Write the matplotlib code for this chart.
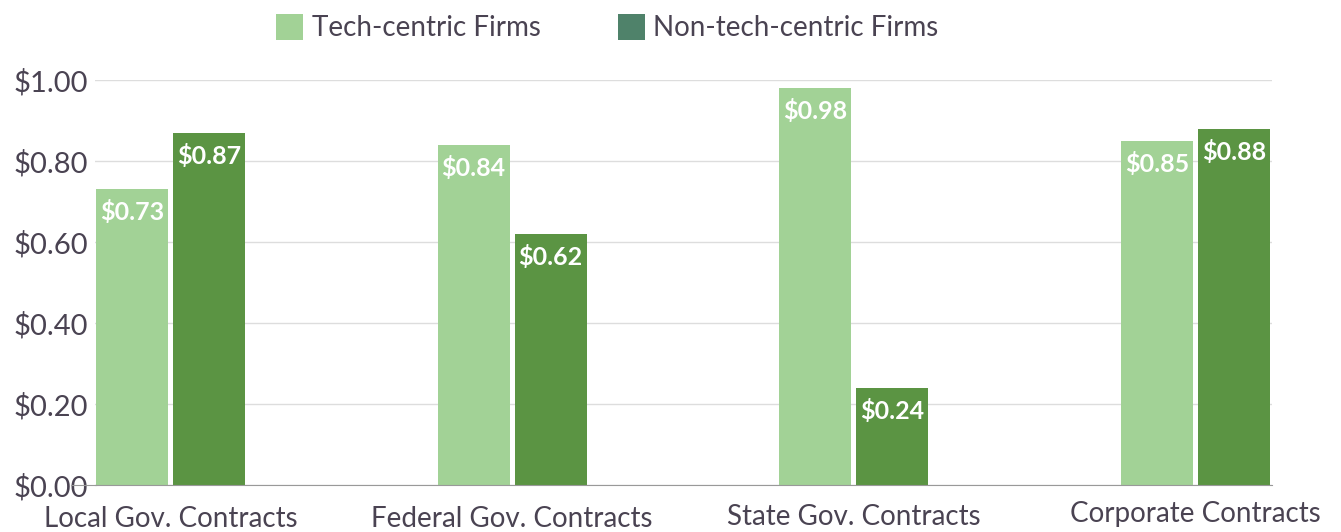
import numpy as np
import matplotlib.pyplot as plt
from matplotlib.patches import Patch
from matplotlib.lines import Line2D
from matplotlib.transforms import ScaledTranslation

categories = ['Local Gov. Contracts', 'Federal Gov. Contracts',
              'State Gov. Contracts', 'Corporate Contracts']
tech = [0.73, 0.84, 0.98, 0.85]
non_tech = [0.87, 0.62, 0.24, 0.88]
series_names = ['Tech-centric Firms', 'Non-tech-centric Firms']
yticks = [0.0, 0.2, 0.4, 0.6, 0.8, 1.0]

plt.rcParams['font.family'] = ['Lato', 'DejaVu Sans']
text_color = '#4a4352'
light = '#a2d296'
dark = '#5b9443'
legend_dark = '#4f826a'

W, H = 1341, 532
fig = plt.figure(figsize=(W/100, H/100), dpi=100)
ax = fig.add_axes([95/W, 1-485/H, 1177/W, 405/H])

x = np.arange(len(categories))
width = 0.211
off = 0.1127
b1 = ax.bar(x - off, tech, width, color=light, zorder=3)
b2 = ax.bar(x + off, non_tech, width, color=dark, zorder=3)

for bars in (b1, b2):
    for rect in bars:
        h = rect.get_height()
        ax.annotate(f'${h:.2f}', (rect.get_x() + rect.get_width()/2, h),
                    xytext=(0, -16.5), textcoords='offset points',
                    ha='center', va='center', color='white',
                    fontsize=18, fontweight='bold', zorder=5)

ax.set_xlim(-0.221, 3.224)
ax.set_ylim(0, 1.0)
ax.set_yticks(yticks)
ax.set_yticklabels([f'${v:.2f}' for v in yticks])
ax.set_xticks(x)
ax.set_xticklabels(categories)
ax.tick_params(axis='both', length=0, colors=text_color)
ax.tick_params(axis='y', pad=5, labelsize=21)
ax.tick_params(axis='x', pad=15, labelsize=20)

# slightly staggered category labels like the original
shifts = [0, 0, 2, 5]
for lbl, dy in zip(ax.get_xticklabels(), shifts):
    lbl.set_transform(lbl.get_transform() + ScaledTranslation(0, dy/100, fig.dpi_scale_trans))

ax.yaxis.grid(True, color='#dddddd', linewidth=1, zorder=0)
for s in ['top', 'right', 'left']:
    ax.spines[s].set_visible(False)
ax.spines['bottom'].set_color('#999999')
ax.spines['bottom'].set_zorder(4)
# baseline reaches a little further left than the grid
fig.add_artist(Line2D([71/W, 96/W], [1-485/H, 1-485/H], color='#999999', linewidth=0.8))

handles = [Patch(facecolor=light, label=series_names[0]),
           Patch(facecolor=legend_dark, label=series_names[1])]
leg = fig.legend(handles=handles, loc='upper center', bbox_to_anchor=(0.453, 1.021),
                 ncol=2, frameon=False, fontsize=20, handlelength=0.97,
                 handleheight=1.08, handletextpad=0.3, columnspacing=2.8)
for t in leg.get_texts():
    t.set_color(text_color)

fig.savefig('out.png', dpi=100)
